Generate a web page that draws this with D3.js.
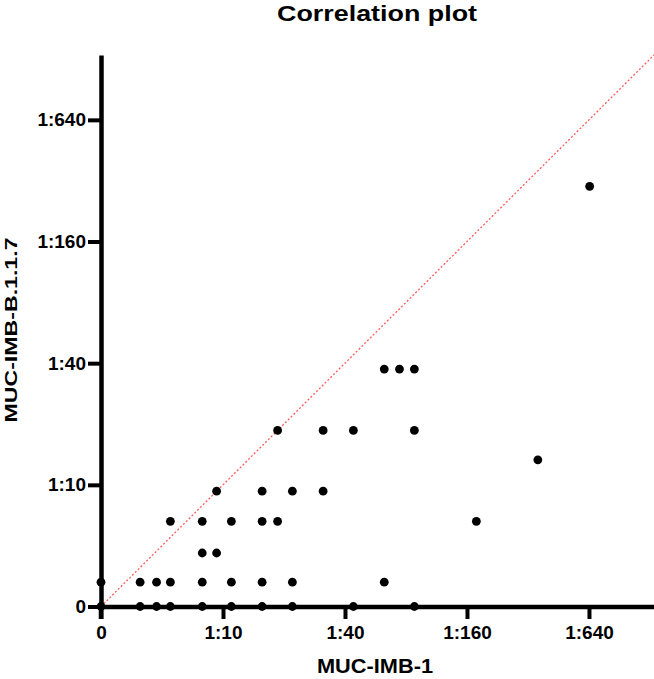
<!DOCTYPE html>
<html>
<head>
<meta charset="utf-8">
<script src="https://cdn.jsdelivr.net/npm/d3@7"></script>
<style>
  html, body { margin: 0; padding: 0; background: #fff; }
  svg { display: block; }
  text { font-family: "Liberation Sans", Arial, sans-serif; font-weight: bold; fill: #000; }
</style>
</head>
<body>
<svg id="chart" width="654" height="679"></svg>
<script>
// ---- data (titer reciprocals; 0 = negative) ----
const xValues = [0, 3.9, 4.7, 5.5, 7.9, 11, 15.6, 22, 44, 88,
                 0, 3.9, 4.7, 5.5, 7.9, 11, 15.6, 22, 62.5,
                 7.9, 9.3,
                 5.5, 7.9, 11, 15.6, 18.6, 178,
                 9.3, 15.6, 22, 31.2,
                 358,
                 18.6, 31.2, 44, 88,
                 62.5, 74.3, 88,
                 645];
const yValues = [0, 0, 0, 0, 0, 0, 0, 0, 0, 0,
                 3.3, 3.3, 3.3, 3.3, 3.3, 3.3, 3.3, 3.3, 3.3,
                 4.6, 4.6,
                 6.6, 6.6, 6.6, 6.6, 6.6, 6.6,
                 9.3, 9.3, 9.3, 9.3,
                 13.3,
                 18.6, 18.6, 18.6, 18.6,
                 37.4, 37.4, 37.4,
                 300];
const tickValues = [0, 10, 40, 160, 640];
const tickLabels = ["0", "1:10", "1:40", "1:160", "1:640"];
const zeroPosition = 2.5;
const axisMax = 1340;

const svg = d3.select("#chart");
const mLeft = 101, mRight = 654, mTop = 55, mBottom = 606.5;

const xLog = d3.scaleLog().domain([zeroPosition, axisMax]).range([mLeft, mRight]);
const yLog = d3.scaleLog().domain([zeroPosition, axisMax]).range([mBottom, mTop]);
const pos = v => (v <= 0 ? zeroPosition : v);
const tickPos = tickValues.map(pos);
const labelOf = new Map(tickPos.map((v, i) => [v, tickLabels[i]]));

// identity line
svg.append("line")
  .attr("x1", xLog(zeroPosition)).attr("y1", yLog(zeroPosition))
  .attr("x2", xLog(axisMax)).attr("y2", yLog(axisMax))
  .attr("stroke", "#ff5a5a").attr("stroke-width", 1.3)
  .attr("stroke-dasharray", "2,2");

// x axis
const gx = svg.append("g").attr("transform", `translate(0,${mBottom})`)
  .call(d3.axisBottom(xLog).tickValues(tickPos).tickFormat(d => labelOf.get(d))
        .tickSize(12.5).tickSizeOuter(0).tickPadding(7));
gx.select(".domain").attr("stroke", "#000").attr("stroke-width", 4.5);
gx.selectAll(".tick line").attr("stroke", "#000").attr("stroke-width", 4);
gx.selectAll(".tick text").attr("font-size", 19).attr("font-family", null)
  .attr("fill", "#000");

// y axis
const gy = svg.append("g").attr("transform", `translate(${mLeft},0)`)
  .call(d3.axisLeft(yLog).tickValues(tickPos).tickFormat(d => labelOf.get(d))
        .tickSize(13).tickSizeOuter(0).tickPadding(2));
gy.select(".domain").attr("stroke", "#000").attr("stroke-width", 4.5);
gy.selectAll(".tick line").attr("stroke", "#000").attr("stroke-width", 4);
gy.selectAll(".tick text").attr("font-size", 19).attr("font-family", null)
  .attr("fill", "#000");
// y axis continues below the x axis
gy.append("line").attr("x1", 0).attr("x2", 0)
  .attr("y1", mBottom).attr("y2", mBottom + 12.5)
  .attr("stroke", "#000").attr("stroke-width", 4.5);

// points
svg.append("g").selectAll("circle")
  .data(xValues.map((x, i) => ({x, y: yValues[i]})))
  .join("circle")
  .attr("cx", d => xLog(pos(d.x))).attr("cy", d => yLog(pos(d.y)))
  .attr("r", 4.4).attr("fill", "#000");

// titles
svg.append("text").attr("x", 377).attr("y", 21)
  .attr("text-anchor", "middle").attr("font-size", 22)
  .attr("textLength", 200).attr("lengthAdjust", "spacingAndGlyphs")
  .text("Correlation plot");

svg.append("text").attr("x", 375).attr("y", 673)
  .attr("text-anchor", "middle").attr("font-size", 20)
  .attr("textLength", 116).attr("lengthAdjust", "spacingAndGlyphs")
  .text("MUC-IMB-1");

svg.append("text")
  .attr("transform", `translate(17,330) rotate(-90)`)
  .attr("text-anchor", "middle").attr("font-size", 17)
  .attr("textLength", 185).attr("lengthAdjust", "spacingAndGlyphs")
  .text("MUC-IMB-B.1.1.7");
</script>
</body>
</html>
